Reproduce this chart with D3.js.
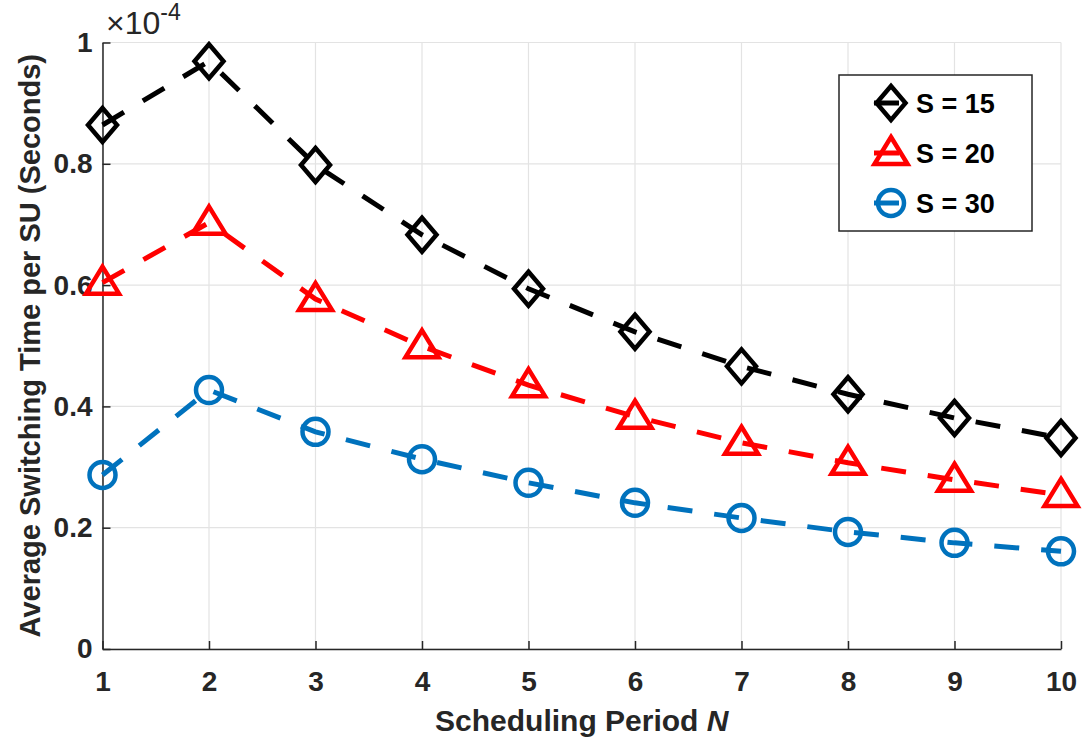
<!DOCTYPE html>
<html>
<head>
<meta charset="utf-8">
<script src="https://cdn.jsdelivr.net/npm/d3@7"></script>
<style>
  html, body { margin: 0; padding: 0; background: #fff; }
  svg { display: block; }
  text { font-family: "Liberation Sans", Arial, Helvetica, sans-serif; font-weight: bold; }
</style>
</head>
<body>
<svg id="chart" width="1088" height="744"></svg>
<script>
// ---- data ----
const periods = [1, 2, 3, 4, 5, 6, 7, 8, 9, 10];
const s15 = [0.864, 0.969, 0.798, 0.683, 0.594, 0.523, 0.466, 0.420, 0.381, 0.348];
const s20 = [0.604, 0.703, 0.577, 0.499, 0.435, 0.383, 0.340, 0.307, 0.279, 0.254];
const s30 = [0.287, 0.427, 0.358, 0.313, 0.274, 0.241, 0.216, 0.193, 0.175, 0.161];
const seriesNames = ["S = 15", "S = 20", "S = 30"];
const xTicks = [1, 2, 3, 4, 5, 6, 7, 8, 9, 10];
const yTicks = [0, 0.2, 0.4, 0.6, 0.8, 1];
const xLabel = "Scheduling Period ";
const xLabelItalic = "N";
const yLabel = "Average Switching Time per SU (Seconds)";

const series = [
  { name: seriesNames[0], values: s15, color: "#000000", marker: "diamond" },
  { name: seriesNames[1], values: s20, color: "#FF0000", marker: "triangle" },
  { name: seriesNames[2], values: s30, color: "#0072BD", marker: "circle" }
];

const svg = d3.select("#chart");
const L = 102.5, R = 1061, T = 42.5, B = 649;
const x = d3.scaleLinear().domain([1, 10]).range([L, R]);
const y = d3.scaleLinear().domain([0, 1]).range([B, T]);
const textColor = "#262626";

// grid
const grid = svg.append("g");
grid.selectAll(".vg").data(xTicks).enter().append("line")
  .attr("x1", d => x(d)).attr("x2", d => x(d)).attr("y1", T).attr("y2", B)
  .attr("stroke", "#e3e3e3").attr("stroke-width", 1.2);
grid.selectAll(".hg").data(yTicks).enter().append("line")
  .attr("y1", d => y(d)).attr("y2", d => y(d)).attr("x1", L).attr("x2", R)
  .attr("stroke", "#e3e3e3").attr("stroke-width", 1.2);

// axes
const xAxis = svg.append("g").attr("transform", `translate(0,${B})`)
  .call(d3.axisBottom(x).tickValues(xTicks).tickFormat(d3.format("d")).tickSizeInner(-8).tickSizeOuter(0).tickPadding(22));
const yAxis = svg.append("g").attr("transform", `translate(${L},0)`)
  .call(d3.axisLeft(y).tickValues(yTicks).tickFormat(d => d === 0 ? "0" : d === 1 ? "1" : d3.format(".1f")(d)).tickSizeInner(-8).tickSizeOuter(0).tickPadding(10));
[xAxis, yAxis].forEach(a => {
  a.select(".domain").attr("stroke", textColor).attr("stroke-width", 1.5);
  a.selectAll(".tick line").attr("stroke", textColor).attr("stroke-width", 1.5);
  a.selectAll(".tick text").attr("fill", textColor).attr("font-size", 28)
    .attr("font-family", "'Liberation Sans', Arial, sans-serif").attr("font-weight", "bold");
});

// exponent label
const ex = svg.append("text").attr("x", 106).attr("y", 34).attr("fill", textColor)
  .style("font-size", "32px").style("font-weight", "normal");
ex.append("tspan").text("\u00D710");
ex.append("tspan").style("font-size", "23px").attr("dy", -14).text("-4");

// axis labels
const xl = svg.append("text").attr("x", (L + R) / 2).attr("y", 731).attr("text-anchor", "middle")
  .attr("fill", textColor).attr("font-size", 30);
xl.append("tspan").text(xLabel);
xl.append("tspan").attr("font-style", "italic").text(xLabelItalic);
svg.append("text").attr("transform", `translate(40,${(T + B) / 2}) rotate(-90)`)
  .attr("text-anchor", "middle").attr("fill", textColor).attr("font-size", 29).text(yLabel);

// markers
function drawMarker(g, type, cx, cy, color) {
  if (type === "diamond") {
    g.append("path").attr("d", `M${cx},${cy - 17}L${cx + 14.5},${cy}L${cx},${cy + 17}L${cx - 14.5},${cy}Z`)
      .attr("fill", "none").attr("stroke", color).attr("stroke-width", 4.5).attr("stroke-linejoin", "miter");
  } else if (type === "triangle") {
    g.append("path").attr("d", `M${cx},${cy - 16}L${cx + 16.5},${cy + 11}L${cx - 16.5},${cy + 11}Z`)
      .attr("fill", "none").attr("stroke", color).attr("stroke-width", 4.5).attr("stroke-linejoin", "miter");
  } else {
    g.append("circle").attr("cx", cx).attr("cy", cy).attr("r", 13)
      .attr("fill", "none").attr("stroke", color).attr("stroke-width", 4.5);
  }
}

const line = d3.line().x((d, i) => x(periods[i])).y(d => y(d));
series.forEach(s => {
  const g = svg.append("g");
  g.append("path").datum(s.values).attr("d", line)
    .attr("fill", "none").attr("stroke", s.color).attr("stroke-width", 5)
    .attr("stroke-dasharray", "25,22");
  s.values.forEach((v, i) => drawMarker(g, s.marker, x(periods[i]), y(v), s.color));
});

// legend
const lg = svg.append("g");
lg.append("rect").attr("x", 839).attr("y", 75).attr("width", 193).attr("height", 156)
  .attr("fill", "#fff").attr("stroke", textColor).attr("stroke-width", 1.5);
series.forEach((s, i) => {
  const cy = 103 + i * 50;
  lg.append("line").attr("x1", 874).attr("x2", 908).attr("y1", cy).attr("y2", cy)
    .attr("stroke", s.color).attr("stroke-width", 5).attr("stroke-dasharray", "25,22");
  drawMarker(lg, s.marker, 891, cy, s.color);
  lg.append("text").attr("x", 916).attr("y", cy + 10).attr("fill", "#000").attr("font-size", 27).text(s.name);
});
</script>
</body>
</html>
